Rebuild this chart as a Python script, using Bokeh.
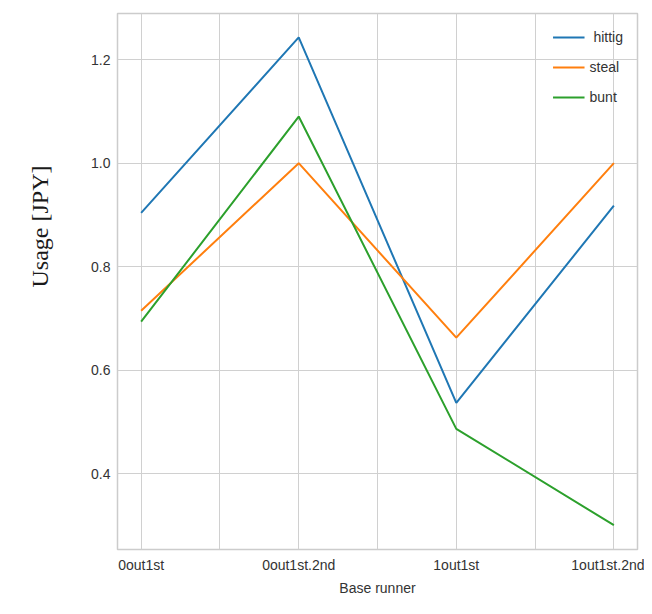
from bokeh.plotting import figure
from bokeh.models import FixedTicker, Range1d, Legend, LegendItem, Title
from bokeh.embed import file_html
from bokeh.resources import INLINE

categories = ["0out1st", "0out1st.2nd", "1out1st", "1out1st.2nd"]
hittig = [0.904, 1.243, 0.537, 0.918]
steal = [0.715, 1.000, 0.663, 1.000]
bunt = [0.694, 1.090, 0.487, 0.301]
series = [("hittig", hittig, "#1f77b4"), ("steal", steal, "#ff7f0e"), ("bunt", bunt, "#2ca02c")]

xs = list(range(len(categories)))

p = figure(width=644, height=598, output_backend="svg", toolbar_location=None,
           x_range=Range1d(-0.15, 3.15), y_range=Range1d(0.254, 1.289),
           min_border_left=117, min_border_right=7, min_border_top=13, min_border_bottom=0)

items = []
for name, vals, col in series:
    r = p.line(xs, vals, line_color=col, line_width=2)
    items.append(LegendItem(label=" " + name if name == "hittig" else name, renderers=[r]))

legend = Legend(items=items, location="top_right", border_line_color=None,
                background_fill_alpha=0, label_text_font="Liberation Sans",
                label_text_font_size="14px", label_text_color="#333333",
                glyph_width=32, glyph_height=20, spacing=10, margin=14, padding=4)
p.add_layout(legend)

tick_pos = [0, 0.5, 1, 1.5, 2, 2.5, 3]
p.xaxis.ticker = FixedTicker(ticks=tick_pos)
overrides = {}
for t in tick_pos:
    overrides[t] = categories[int(t)] if float(t).is_integer() else ""
p.xaxis.major_label_overrides = overrides
p.yaxis.ticker = FixedTicker(ticks=[0.4, 0.6, 0.8, 1.0, 1.2])
p.yaxis.major_label_overrides = {0.4: "0.4", 0.6: "0.6", 0.8: "0.8", 1.0: "1.0", 1.2: "1.2"}

for ax in (p.xaxis[0], p.yaxis[0]):
    ax.axis_line_color = None
    ax.major_tick_line_color = None
    ax.minor_tick_line_color = None
    ax.major_tick_out = 0
    ax.major_tick_in = 0
    ax.major_label_text_font = "Liberation Sans"
    ax.major_label_text_font_size = "14px"
    ax.major_label_text_color = "#333333"
    ax.major_label_standoff = 7

p.xaxis.axis_label = "Base runner"
p.xaxis.axis_label_text_font = "Liberation Sans"
p.xaxis.axis_label_text_font_size = "14px"
p.xaxis.axis_label_text_font_style = "normal"
p.xaxis.axis_label_text_color = "#333333"
p.xaxis.axis_label_standoff = 4

ytitle = Title(text="Usage [JPY]\n ", align="left", offset=262,
               text_font="Liberation Serif", text_font_size="24px",
               text_font_style="normal", text_color="#1a1a1a", standoff=20)
p.add_layout(ytitle, "left")

p.xgrid.grid_line_color = "#d0d0d0"
p.ygrid.grid_line_color = "#d0d0d0"
p.xgrid.grid_line_width = 1
p.ygrid.grid_line_width = 1
p.outline_line_color = "#cccccc"
p.outline_line_width = 1.5
p.background_fill_color = "white"
p.border_fill_color = "white"

open("out.html", "w").write(file_html(p, INLINE))
